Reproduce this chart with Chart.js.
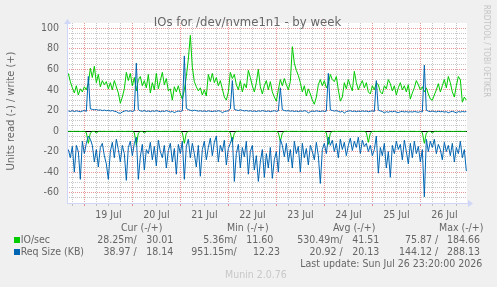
<!DOCTYPE html>
<html>
<head>
<meta charset="utf-8">
<script src="https://cdn.jsdelivr.net/npm/chart.js@4.4.1/dist/chart.umd.min.js"></script>
<style>
    html, body { margin: 0; padding: 0; background: #f0f0f0; }
    #grafico { display: block; }
</style>
</head>
<body>
<canvas id="grafico" width="497" height="287"></canvas>
<script>
// hours since 18 Jul 00:00, one point per hour
const horaInicio = 16;
const horaMin = 15.333, horaMax = 215.333;
const dias = ['19 Jul', '20 Jul', '21 Jul', '22 Jul', '23 Jul', '24 Jul', '25 Jul', '26 Jul'];
const yEtiquetas = [-60, -40, -20, 0, 20, 40, 60, 80, 100];

// IO/sec write (+)
const ioWrite = [
    56, 48, 42, 37, 44, 35, 41, 38, 43, 40, 46, 61, 52, 63, 47, 55, 43, 49, 45, 48,
    41, 47, 40, 49, 43, 37, 27, 33, 41, 57, 49, 56, 44, 52, 39, 50, 53, 44, 49, 42,
    55, 37, 47, 40, 56, 41, 49, 57, 45, 51, 39, 41, 30, 43, 38, 44, 36, 31, 40, 53,
    70, 93, 62, 48, 43, 39, 42, 35, 40, 34, 55, 48, 56, 47, 52, 44, 49, 41, 33, 30,
    38, 57, 51, 55, 45, 40, 49, 38, 46, 42, 59, 52, 44, 38, 47, 60, 43, 36, 44, 49,
    40, 48, 38, 33, 29, 40, 50, 44, 51, 45, 40, 48, 82, 66, 59, 54, 47, 38, 44, 34,
    41, 36, 30, 26, 33, 45, 50, 44, 49, 42, 46, 55, 50, 48, 53, 40, 29, 33, 47, 41,
    50, 44, 39, 58, 47, 40, 45, 49, 42, 47, 38, 36, 44, 40, 47, 45, 38, 36, 44, 41,
    50, 46, 39, 44, 35, 42, 47, 40, 44, 38, 45, 31, 37, 42, 49, 45, 40, 43, 38, 42,
    36, 31, 30, 35, 40, 46, 38, 44, 50, 42, 53, 47, 38, 33, 44, 53, 50, 28, 33, 30
];
// IO/sec read (-)
const ioRead = [
    -0.4, -0.3, -0.5, -0.3, -0.4, -0.3, -0.5, -0.4, -0.3, -1.5, -12, -2, -0.4, -0.3, -2, -0.4, -0.3, -0.4, -0.3, -0.5,
    -0.3, -0.4, -0.3, -0.5, -0.4, -0.3, -0.4, -0.3, -0.5, -0.4, -0.3, -0.4, -0.3, -1.5, -14, -2, -0.4, -0.3, -2, -0.4,
    -0.3, -0.4, -0.5, -0.3, -0.4, -0.3, -0.5, -0.4, -0.3, -0.4, -0.3, -0.5, -0.4, -0.3, -0.4, -0.3, -0.5, -1.5, -12, -2,
    -0.4, -0.3, -0.5, -0.4, -0.3, -0.4, -0.3, -0.5, -0.4, -0.3, -0.4, -0.3, -0.5, -0.4, -0.3, -0.4, -0.3, -0.5, -0.4, -0.3,
    -0.4, -1.5, -11, -2, -0.4, -0.3, -0.5, -0.4, -0.3, -0.4, -0.3, -0.5, -0.4, -0.3, -0.4, -0.3, -0.5, -0.4, -0.3, -0.4,
    -0.3, -0.5, -0.4, -0.3, -0.4, -1.5, -10, -2, -0.4, -0.3, -0.5, -0.4, -0.3, -0.4, -0.3, -0.5, -0.4, -0.3, -0.4, -0.3,
    -0.5, -0.4, -0.3, -0.4, -0.3, -0.5, -0.4, -0.3, -0.4, -1.5, -13, -2, -0.4, -0.3, -0.5, -0.4, -0.3, -0.4, -0.3, -0.5,
    -0.4, -0.3, -0.4, -0.3, -0.5, -0.4, -0.3, -0.4, -0.3, -1.5, -11, -2, -0.4, -0.3, -0.5, -0.4, -0.3, -0.4, -0.3, -0.5,
    -0.4, -0.3, -0.4, -0.3, -0.5, -0.4, -0.3, -0.4, -0.3, -0.5, -0.4, -0.3, -0.4, -0.3, -0.5, -0.4, -0.3, -1.5, -12, -2,
    -0.4, -0.3, -2, -0.4, -0.3, -0.4, -0.3, -0.5, -0.4, -0.3, -0.4, -0.3, -0.5, -0.4, -0.3, -0.4, -0.3, -0.5, -0.4, -0.3
];
// Req Size write (+)
const reqWrite = [
    19.5, 19.0, 19.8, 18.9, 19.6, 19.2, 18.7, 19.4, 19.9, 19.1, 53, 21.5, 21.0, 20.6, 20.9, 20.2, 20.5, 19.8, 20.3, 19.7,
    20.1, 19.4, 19.9, 19.2, 18.8, 17.6, 17.2, 18.5, 19.3, 19.8, 19.1, 19.6, 19.0, 19.7, 66, 20.8, 19.6, 19.2, 19.9, 19.0,
    19.5, 18.8, 19.6, 19.1, 19.8, 19.3, 18.7, 19.4, 19.0, 19.8, 19.2, 18.4, 19.1, 17.9, 18.8, 19.4, 19.0, 19.6, 73, 22.0,
    20.8, 20.1, 19.6, 20.2, 19.8, 19.3, 19.7, 19.1, 19.5, 19.0, 19.6, 19.2, 18.9, 19.4, 19.1, 19.7, 19.3, 17.8, 18.9, 19.3,
    19.6, 21.5, 49, 21.0, 20.4, 19.9, 20.6, 20.0, 19.5, 19.9, 19.3, 19.7, 19.1, 19.5, 18.9, 19.6, 19.2, 19.8, 19.4, 19.0,
    19.5, 18.8, 19.3, 19.7, 19.1, 19.5, 42, 20.6, 19.9, 19.5, 19.8, 19.2, 19.6, 19.0, 19.4, 18.8, 19.5, 19.1, 19.7, 19.3,
    17.6, 18.8, 19.4, 19.0, 19.6, 19.2, 18.9, 19.5, 19.0, 19.3, 56, 20.5, 19.9, 19.4, 19.8, 19.1, 18.4, 19.2, 17.5, 18.9,
    19.3, 19.7, 19.0, 19.4, 18.8, 19.3, 18.9, 19.5, 19.1, 19.4, 18.7, 19.2, 19.6, 19.0, 49, 20.3, 19.5, 19.0, 17.6, 18.8,
    18.2, 19.0, 18.6, 19.2, 18.4, 17.9, 18.7, 19.1, 18.5, 18.9, 18.3, 18.8, 18.4, 19.0, 18.6, 18.2, 18.9, 18.5, 64, 20.2,
    19.3, 18.8, 19.4, 18.9, 18.5, 19.2, 18.7, 19.0, 18.4, 18.8, 17.8, 18.6, 19.1, 18.5, 17.6, 18.9, 18.4, 19.0, 18.6, 18.9
];
// Req Size read (-)
const reqRead = [
    -18, -26, -15, -40, -14, -20, -47, -10, -22, -12, -5, -8, -14, -30, -18, -35, -16, -12, -24, -32,
    -47, -20, -11, -26, -8, -18, -30, -14, -22, -48, -16, -10, -24, -12, -6, -47, -25, -13, -38, -18,
    -22, -11, -28, -15, -34, -9, -20, -26, -14, -36, -19, -12, -30, -17, -42, -13, -22, -10, -47, -15,
    -8, -26, -12, -22, -35, -14, -44, -18, -10, -28, -16, -7, -24, -11, -5, -30, -14, -20, -9, -33,
    -17, -12, -6, -49, -22, -13, -36, -16, -25, -10, -42, -20, -14, -38, -24, -49, -30, -18, -45, -22,
    -36, -16, -46, -28, -20, -40, -8, -14, -25, -12, -30, -18, -36, -10, -22, -15, -40, -12, -26, -17,
    -33, -14, -20, -28, -11, -24, -51, -18, -12, -22, -6, -14, -9, -20, -12, -26, -8, -18, -11, -24,
    -14, -7, -19, -10, -16, -6, -22, -9, -15, -12, -20, -14, -24, -18, -5, -41, -16, -24, -12, -36,
    -20, -45, -14, -22, -10, -18, -13, -28, -9, -20, -32, -12, -26, -10, -22, -15, -30, -18, -64, -8,
    -20, -10, -16, -8, -22, -13, -18, -28, -11, -20, -14, -24, -12, -30, -16, -22, -10, -26, -18, -39
];

const VERDE = '#00cc00';
const AZUL = '#0066b3';
const TEXTO = '#666666';
const FUENTE = '"DejaVu Sans Condensed", "DejaVu Sans", sans-serif';
const GRILLA = 'rgba(143, 143, 143, 0.5)';
const GRILLA_MAYOR = 'rgba(222, 79, 79, 0.6)';
const EJE = '#cfd6f8';

function serie(valores) {
    return valores.map((v, i) => ({ x: horaInicio + i, y: v }));
}

function linea(label, valores, color) {
    return {
        label: label,
        data: serie(valores),
        borderColor: color,
        borderWidth: 1,
        pointRadius: 0,
        tension: 0,
        fill: false
    };
}

const fondo = {
    id: 'fondo',
    beforeDraw(chart) {
        const c = chart.ctx, a = chart.chartArea;
        c.save();
        c.fillStyle = '#f0f0f0';
        c.fillRect(0, 0, chart.width, chart.height);
        c.fillStyle = '#ffffff';
        c.fillRect(a.left, a.top, a.right - a.left, a.bottom - a.top);
        c.restore();
    }
};

const textos = {
    id: 'textos',
    afterDraw(chart) {
        const c = chart.ctx, a = chart.chartArea;
        c.save();

        // ejes con flechas
        c.strokeStyle = EJE;
        c.fillStyle = EJE;
        c.lineWidth = 1;
        c.beginPath();
        c.moveTo(a.left + 0.5, a.bottom);
        c.lineTo(a.left + 0.5, a.top - 1);
        c.moveTo(a.left, a.bottom + 0.5);
        c.lineTo(a.right + 1, a.bottom + 0.5);
        c.stroke();
        c.beginPath();
        c.moveTo(a.left - 3, a.top + 1);
        c.lineTo(a.left + 4, a.top + 1);
        c.lineTo(a.left + 0.5, a.top - 4);
        c.closePath();
        c.fill();
        c.beginPath();
        c.moveTo(a.right + 1, a.bottom - 3);
        c.lineTo(a.right + 1, a.bottom + 4);
        c.lineTo(a.right + 6, a.bottom + 0.5);
        c.closePath();
        c.fill();

        // titulo
        c.fillStyle = TEXTO;
        c.textAlign = 'center';
        c.textBaseline = 'alphabetic';
        c.font = '13px ' + FUENTE;
        c.fillText('IOs for /dev/nvme1n1 - by week', 247.5, 26);

        // etiqueta eje y
        c.save();
        c.translate(14, 111);
        c.rotate(-Math.PI / 2);
        c.font = '11px ' + FUENTE;
        c.fillText('Units read (-) / write (+)', 0, 0);
        c.restore();

        // marca rrdtool
        c.save();
        c.translate(483.5, 51);
        c.rotate(Math.PI / 2);
        c.fillStyle = '#c4c4c4';
        c.font = '8px ' + FUENTE;
        c.fillText('RRDTOOL / TOBI OETIKER', 0, 0);
        c.restore();

        // leyenda
        c.font = '10.5px ' + FUENTE;
        c.textAlign = 'left';
        c.fillText('Cur (-/+)', 121, 230.5);
        c.fillText('Min (-/+)', 227, 230.5);
        c.fillText('Avg (-/+)', 333, 230.5);
        c.fillText('Max (-/+)', 439, 230.5);

        c.fillStyle = VERDE;
        c.fillRect(14, 237, 6, 6);
        c.fillStyle = AZUL;
        c.fillRect(14, 249, 6, 6);

        c.fillStyle = TEXTO;
        c.fillText('IO/sec', 20.7, 243.3);
        c.fillText('Req Size (KB)', 20.7, 255.3);

        const filas = [
            [243.3, ['28.25m/', 136.7], ['30.01', 173.3], ['5.36m/', 236.7], ['11.60', 273.3],
                ['530.49m/', 342.7], ['41.51', 379.3], ['75.87 /', 438.3], ['184.66', 480]],
            [255.3, ['38.97 /', 136.7], ['18.14', 173.3], ['951.15m/', 236.7], ['12.23', 280],
                ['20.92 /', 342.7], ['20.13', 379.3], ['144.12 /', 438.3], ['288.13', 480]]
        ];
        c.textAlign = 'right';
        filas.forEach(f => {
            for (let k = 1; k < f.length; k++) {
                c.fillText(f[k][0], f[k][1], f[0]);
            }
        });
        c.fillText('Last update: Sun Jul 26 23:20:00 2026', 482.3, 267);

        c.textAlign = 'left';
        c.fillStyle = '#c8c8c8';
        c.fillText('Munin 2.0.76', 225, 278.3);

        c.restore();
    }
};

function colorY(ctx) {
    if (!ctx.tick) return GRILLA;
    const v = ctx.tick.value;
    if (v === 0) return '#000000';
    if (v <= -70 || v >= 105) return 'rgba(0,0,0,0)';
    return v % 20 === 0 ? GRILLA_MAYOR : GRILLA;
}

function colorX(ctx) {
    if (!ctx.tick) return GRILLA;
    return ctx.tick.value % 24 === 0 ? GRILLA_MAYOR : GRILLA;
}

const grafico = new Chart(document.getElementById('grafico'), {
    type: 'line',
    data: {
        datasets: [
            linea('Req Size read', reqRead, AZUL),
            linea('Req Size write', reqWrite, AZUL),
            linea('IO/sec read', ioRead, VERDE),
            linea('IO/sec write', ioWrite, VERDE)
        ]
    },
    options: {
        responsive: false,
        animation: false,
        events: [],
        layout: { padding: { top: 23, right: 30, left: 0, bottom: 0 } },
        plugins: {
            legend: { display: false },
            tooltip: { enabled: false },
            title: { display: false }
        },
        scales: {
            x: {
                type: 'linear',
                min: horaMin,
                max: horaMax,
                afterFit: s => { s.height = 84; },
                afterBuildTicks: s => {
                    const t = [];
                    for (let h = 18; h <= 210; h += 6) t.push({ value: h });
                    s.ticks = t;
                },
                ticks: {
                    autoSkip: false,
                    maxRotation: 0,
                    padding: 3,
                    color: TEXTO,
                    font: { family: FUENTE, size: 10.5 },
                    callback: v => ((v - 12) % 24 === 0 ? dias[(v - 36) / 24] : '')
                },
                grid: {
                    color: colorX,
                    tickColor: colorX,
                    tickLength: 3
                },
                border: { display: false, dash: [1, 1] }
            },
            y: {
                min: -70,
                max: 105,
                afterFit: s => { s.width = 67; },
                afterBuildTicks: s => {
                    const t = [];
                    for (let v = -70; v <= 105; v += 5) t.push({ value: v });
                    s.ticks = t;
                },
                ticks: {
                    autoSkip: false,
                    padding: 8,
                    color: TEXTO,
                    font: { family: FUENTE, size: 10.5 },
                    callback: v => (yEtiquetas.includes(v) ? String(v) : '')
                },
                grid: {
                    color: colorY,
                    drawTicks: false
                },
                border: {
                    display: false,
                    dash: ctx => (ctx.tick && ctx.tick.value === 0 ? [] : [1, 1])
                }
            }
        }
    },
    plugins: [fondo, textos]
});
</script>
</body>
</html>
